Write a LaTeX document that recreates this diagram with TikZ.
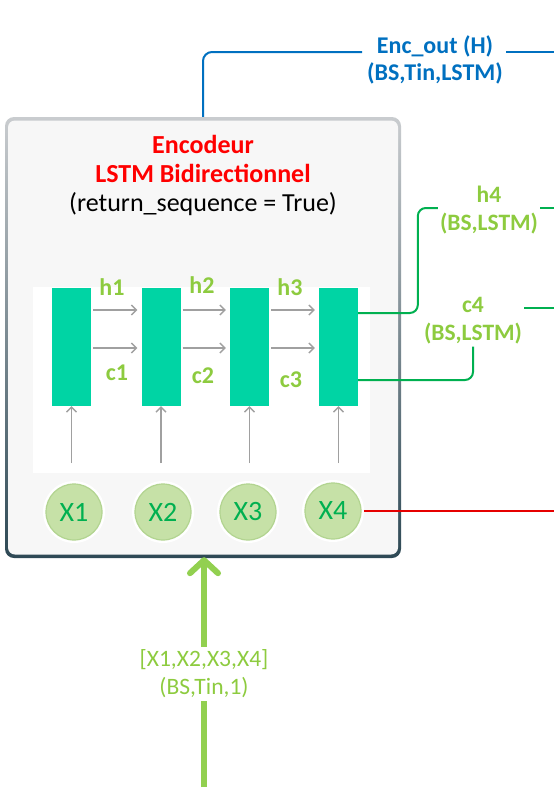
\documentclass[tikz,border=0pt]{standalone}
\usepackage{fontspec}
\setmainfont{Carlito}
\usetikzlibrary{arrows.meta}
\definecolor{encblue}{HTML}{0070C0}
\definecolor{titlered}{HTML}{FF0000}
\definecolor{linered}{HTML}{E60000}
\definecolor{lgreen}{HTML}{8DCB3F}
\definecolor{argreen}{HTML}{92D050}
\definecolor{dgreen}{HTML}{00B050}
\definecolor{teal}{HTML}{00D4A4}
\definecolor{arrgray}{HTML}{A0A0A0}
\definecolor{shelltop}{HTML}{C9CCCF}
\definecolor{shellmid}{HTML}{9EA6AB}
\definecolor{shellbot}{HTML}{2E4955}
\definecolor{boxfill}{HTML}{F7F7F7}
\definecolor{circfill}{HTML}{C6E1A7}
\definecolor{circdraw}{HTML}{B2D490}
\begin{document}
\begin{tikzpicture}[x=1pt,y=-1pt,
  shell/.style={rounded corners=9pt, top color=shelltop, middle color=shellmid, bottom color=shellbot, minimum width=396pt, minimum height=441pt, inner sep=0pt},
  innerbox/.style={rounded corners=7pt, fill=boxfill, minimum width=390pt, minimum height=434pt, inner sep=0pt},
  panel/.style={fill=white, minimum width=337pt, minimum height=186pt, inner sep=0pt},
  cell/.style={fill=teal, minimum width=39pt, minimum height=118pt, inner sep=0pt},
  halo/.style={circle, fill=white, minimum size=62pt, inner sep=0pt},
  xcirc/.style={circle, fill=circfill, draw=circdraw, line width=1.2pt, minimum size=56pt, inner sep=0pt, text=dgreen, font=\fontsize{28pt}{32pt}\selectfont},
  garrow/.style={draw=arrgray, line width=1.3pt, -{Straight Barb[length=5pt,width=10pt]}},
  hclab/.style={text=lgreen, font=\bfseries\fontsize{24pt}{28pt}\selectfont, inner sep=1pt},
  title/.style={align=center, font=\fontsize{26pt}{29pt}\selectfont, inner sep=0pt},
  enclab/.style={align=center, text=encblue, font=\bfseries\fontsize{24pt}{27pt}\selectfont, inner sep=2pt},
  stlab/.style={align=center, text=lgreen, font=\bfseries\fontsize{23.5pt}{28pt}\selectfont, inner sep=2pt},
  inlab/.style={align=center, text=lgreen, font=\fontsize{23.5pt}{28pt}\selectfont, inner sep=3pt},
  blueline/.style={draw=encblue, line width=2pt, rounded corners=9pt},
  gline/.style={draw=dgreen, line width=2pt, rounded corners=8pt},
  redline/.style={draw=linered, line width=2pt},
  bigarrow/.style={draw=argreen, line width=6pt, -{Straight Barb[length=13pt,width=28pt,round]}},
  bigline/.style={draw=argreen, line width=6pt}
]
\useasboundingbox (0,0) rectangle (554,811);

% encoder box
\node[shell] (shell) at (203,337.5) {};
\node[innerbox] (box) at (203,337.5) {};
\node[panel] (panel) at (201.5,380) {};

% title
\node[title] (title) at (203,175) {\textcolor{titlered}{\bfseries Encodeur}\\\textcolor{titlered}{\bfseries LSTM Bidirectionnel}\\(return\_sequence = True)};

% LSTM cells
\node[cell] (r1) at (71.5,347) {};
\node[cell] (r2) at (161,347) {};
\node[cell] (r3) at (249.5,347) {};
\node[cell] (r4) at (338.5,347) {};

% recurrent arrows
\draw[garrow] ([xshift=2pt,yshift=37pt]r1.east) -- ([xshift=-4pt,yshift=37pt]r2.west);
\draw[garrow] ([xshift=2pt,yshift=37pt]r2.east) -- ([xshift=-4pt,yshift=37pt]r3.west);
\draw[garrow] ([xshift=2pt,yshift=37pt]r3.east) -- ([xshift=-4pt,yshift=37pt]r4.west);
\draw[garrow] ([xshift=2pt,yshift=-1pt]r1.east) -- ([xshift=-4pt,yshift=-1pt]r2.west);
\draw[garrow] ([xshift=2pt,yshift=-1pt]r2.east) -- ([xshift=-4pt,yshift=-1pt]r3.west);
\draw[garrow] ([xshift=2pt,yshift=-1pt]r3.east) -- ([xshift=-4pt,yshift=-1pt]r4.west);

\node[hclab] (h1) at (112,287) {h1};
\node[hclab] (h2) at (202,285) {h2};
\node[hclab] (h3) at (290,287) {h3};
\node[hclab] (c1) at (117,373) {c1};
\node[hclab] (c2) at (203,376) {c2};
\node[hclab] (c3) at (291,380) {c3};

% input arrows
\coordinate (b1) at (71.5,463);
\coordinate (b2) at (161,463);
\coordinate (b3) at (249.5,463);
\coordinate (b4) at (338.5,463);
\draw[garrow] (b1) -- (r1.south);
\draw[garrow] (b2) -- (r2.south);
\draw[garrow] (b3) -- (r3.south);
\draw[garrow] (b4) -- (r4.south);

% inputs
\node[halo] (hx1) at (74,512) {};
\node[halo] (hx2) at (163,512) {};
\node[halo] (hx3) at (248,512) {};
\node[halo] (hx4) at (333,511) {};
\node[xcirc] (x1) at (74,512) {X1};
\node[xcirc] (x2) at (163,512) {X2};
\node[xcirc] (x3) at (248,512) {X3};
\node[xcirc] (x4) at (333,511) {X4};

% red output line
\coordinate (redend) at (554,511);
\draw[redline] (hx4.east) -- (redend);

% encoder output
\node[enclab] (enc) at (435,59.5) {Enc\_out (H)\\(BS,Tin,LSTM)};
\coordinate (encL) at (362,52);
\coordinate (encR) at (506,52);
\coordinate (encEnd) at (554,52);
\draw[blueline] (shell.north) |- (encL);
\draw[blueline] (encR) -- (encEnd);

% h4 state
\node[stlab] (h4lab) at (489,210.5) {h4\\(BS,LSTM)};
\coordinate (h4end) at (554,208);
\draw[gline] ([yshift=34pt]r4.east) -| ([xshift=-20pt,yshift=2.5pt]h4lab.west) -- ([yshift=2.5pt]h4lab.west);
\draw[gline] ([yshift=2.5pt]h4lab.east) -- (h4end);

% c4 state
\node[stlab] (c4lab) at (473,321) {c4\\(BS,LSTM)};
\coordinate (c4end) at (554,308);
\draw[gline] ([yshift=-33pt]r4.east) -| (c4lab.south);
\draw[gline] ([yshift=13pt]c4lab.east) -- (c4end);

% input arrow
\node[inlab] (inlab) at (204,674) {[X1,X2,X3,X4]\\(BS,Tin,1)};
\coordinate (instart) at (204,787);
\draw[bigline] (instart) -- (inlab.south);
\draw[bigarrow] (inlab.north) -- ([yshift=1pt]shell.south -| inlab.north);
\end{tikzpicture}
\end{document}
